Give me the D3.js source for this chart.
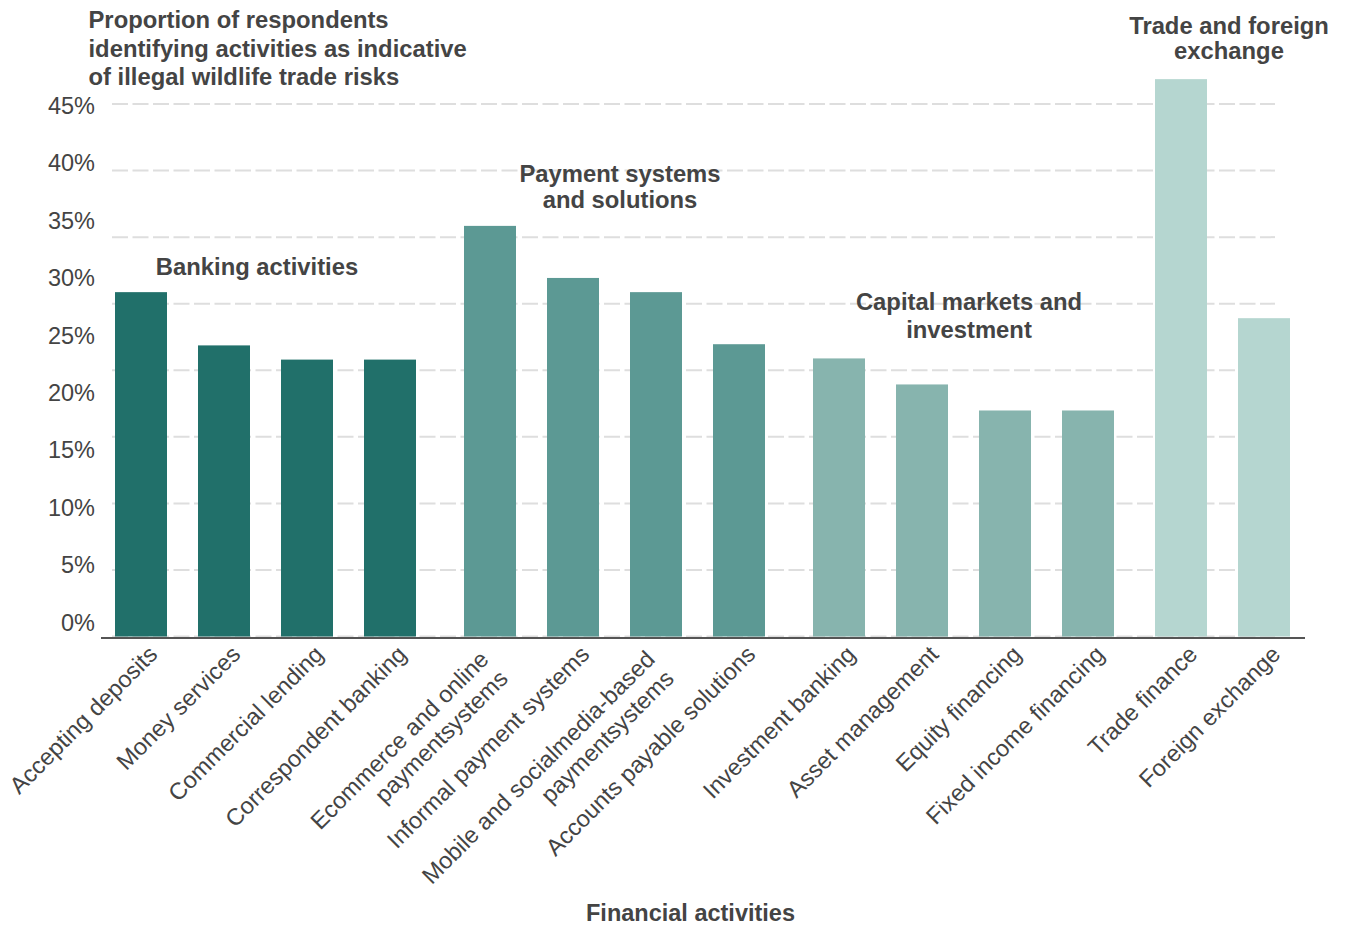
<!DOCTYPE html>
<html>
<head>
<meta charset="utf-8">
<script src="https://cdn.jsdelivr.net/npm/d3@7"></script>
<style>
  html, body { margin: 0; padding: 0; background: #fff; }
  svg { display: block; font-family: "Liberation Sans", Arial, sans-serif; }
</style>
</head>
<body>
<svg id="chart" width="1345" height="925"></svg>
<script>
// Financial activities, one bar each
const categories = [
  "Accepting deposits",
  "Money services",
  "Commercial lending",
  "Correspondent banking",
  "Ecommerce and online\npaymentsystems",
  "Informal payment systems",
  "Mobile and socialmedia-based\npaymentsystems",
  "Accounts payable solutions",
  "Investment banking",
  "Asset management",
  "Equity financing",
  "Fixed income financing",
  "Trade finance",
  "Foreign exchange"
];

// Share of respondents (%) naming each activity
const values = [29.1, 24.6, 23.4, 23.4, 34.7, 30.3, 29.1, 24.7, 23.5, 21.3, 19.1, 19.1, 47.1, 26.9];

// Sector each activity belongs to (index into groupNames)
const groupOf = [0, 0, 0, 0, 1, 1, 1, 1, 2, 2, 2, 2, 3, 3];
const groupNames = [
  "Banking activities",
  "Payment systems\nand solutions",
  "Capital markets and\ninvestment",
  "Trade and foreign\nexchange"
];

// Y axis tick values (%)
const yTicks = [0, 5, 10, 15, 20, 25, 30, 35, 40, 45];

const titleLines = [
  "Proportion of respondents",
  "identifying activities as indicative",
  "of illegal wildlife trade risks"
];
const xTitle = "Financial activities";

// ---- styles & layout ----
const textColor = "#444";
const groupColors = ["#21706a", "#5c9994", "#87b4ae", "#b5d6d0"];
const fontSize = 23.5;
const boldSize = 23.8;
const groupShift = [0, 17, 34, 44];   // extra space before each sector

const svg = d3.select("#chart");

const y = d3.scaleLinear().domain([0, 45]).range([636.5, 104]);
// tick labels sit on their own spacing
const yLabel = d3.scaleLinear().domain([0, 45]).range([622.7, 105.7]);

const x = d3.scaleBand()
  .domain(categories)
  .range([115, 115 + 14 * 83 - 31])
  .paddingInner(31 / 83)
  .paddingOuter(0);

const barX = (d, i) => x(d) + groupShift[groupOf[i]];

// gridlines: nine evenly spaced dashed lines from the baseline up to the top tick
const gridValues = d3.range(9).map(i => i * 45 / 8);
svg.append("g")
  .selectAll("line")
  .data(gridValues)
  .join("line")
  .attr("x1", 112)
  .attr("x2", 1275)
  .attr("y1", d => y(d))
  .attr("y2", d => y(d))
  .attr("stroke", "#dedede")
  .attr("stroke-width", 2)
  .attr("stroke-dasharray", "16,4.5");

// y axis labels
const yAxis = d3.axisLeft(yLabel)
  .tickValues(yTicks)
  .tickSize(0)
  .tickPadding(0)
  .tickFormat(d => d + "%");
const yg = svg.append("g").attr("transform", "translate(95,0)").call(yAxis);
yg.select(".domain").remove();
yg.selectAll("text")
  .attr("fill", textColor)
  .style("font-size", fontSize + "px")
  .style("font-family", '"Liberation Sans", Arial, sans-serif');

// bars
svg.append("g")
  .selectAll("rect")
  .data(categories)
  .join("rect")
  .attr("x", (d, i) => barX(d, i))
  .attr("width", x.bandwidth())
  .attr("y", (d, i) => y(values[i]))
  .attr("height", (d, i) => y(0) - y(values[i]))
  .attr("fill", (d, i) => groupColors[groupOf[i]]);

// baseline
svg.append("line")
  .attr("x1", 101).attr("x2", 1305)
  .attr("y1", 638).attr("y2", 638)
  .attr("stroke", "#555")
  .attr("stroke-width", 2);

// rotated category labels
const lh = 27;
const xl = svg.append("g");
categories.forEach((c, i) => {
  const lines = c.split("\n");
  const multi = lines.length > 1;
  const cx = barX(c, i) + x.bandwidth() / 2;
  const t = xl.append("text")
    .attr("transform", `translate(${cx + 6},${644}) rotate(-45)`)
    .attr("text-anchor", "end")
    .attr("fill", textColor)
    .style("font-size", fontSize + "px");
  lines.forEach((ln, k) => {
    t.append("tspan")
      .attr("x", multi ? -16 : 0)
      .attr("y", k * lh - (multi ? 9 : 0))
      .attr("dy", "0.71em")
      .text(ln);
  });
});

// sector annotations
const groupLabelPos = [
  { x: 257, y: 275, lh: 26 },
  { x: 620, y: 182, lh: 26 },
  { x: 969, y: 310, lh: 28 },
  { x: 1229, y: 34, lh: 25 }
];
groupNames.forEach((g, i) => {
  const p = groupLabelPos[i];
  const t = svg.append("text")
    .attr("text-anchor", "middle")
    .attr("fill", textColor)
    .style("font-size", boldSize + "px")
    .style("font-weight", "bold");
  g.split("\n").forEach((ln, k) => {
    t.append("tspan").attr("x", p.x).attr("y", p.y + k * p.lh).text(ln);
  });
});

// title
const title = svg.append("text")
  .attr("fill", textColor)
  .style("font-size", "23.8px")
  .style("font-weight", "bold");
titleLines.forEach((ln, k) => {
  title.append("tspan").attr("x", 88.5).attr("y", 28 + k * 28.5).text(ln);
});

// x axis title
svg.append("text")
  .attr("x", 690.5)
  .attr("y", 921)
  .attr("text-anchor", "middle")
  .attr("fill", textColor)
  .style("font-size", fontSize + "px")
  .style("font-weight", "bold")
  .text(xTitle);
</script>
</body>
</html>
